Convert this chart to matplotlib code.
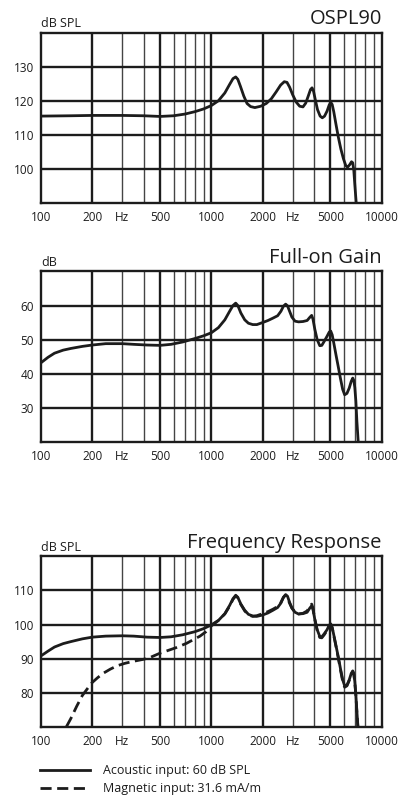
import matplotlib
matplotlib.use("Agg")
import matplotlib.pyplot as plt
from matplotlib.lines import Line2D

plt.rcParams['font.family'] = ['Open Sans', 'DejaVu Sans']

# OSPL90 curve (Hz, dB SPL)
ospl_freq = [100, 150, 200, 300, 400, 500, 600, 700, 800, 900, 1000, 1100, 1200, 1280, 1340,
             1390, 1430, 1480, 1550, 1620, 1700, 1800, 1950, 2100, 2250, 2400, 2550, 2680, 2780,
             2880, 3000, 3150, 3300, 3450, 3580, 3700, 3820, 3900, 3980, 4080, 4200, 4350, 4480,
             4620, 4780, 4920, 5030, 5120, 5230, 5380, 5560, 5760, 5960, 6150, 6300, 6480, 6650,
             6760, 6860, 6950, 7060, 7200]
ospl_db = [115.5, 115.6, 115.7, 115.7, 115.6, 115.4, 115.6, 116.1, 116.8, 117.6, 118.6, 120.0,
           122.3, 124.8, 126.5, 127.0, 126.3, 124.3, 121.4, 119.2, 118.3, 118.0, 118.4, 119.2,
           120.6, 122.6, 124.6, 125.6, 125.4, 124.0, 121.8, 119.6, 118.4, 118.2, 119.3, 121.3,
           123.3, 123.8, 122.8, 120.2, 117.4, 115.5, 115.0, 115.5, 117.0, 118.8, 119.5, 118.9,
           116.8, 113.3, 109.4, 105.8, 103.0, 101.0, 100.5, 101.2, 102.1, 101.8, 99.5, 95.5,
           91.0, 86.0]

# Full-on gain curve (Hz, dB)
gain_freq = [100, 110, 120, 135, 150, 175, 200, 240, 300, 350, 420, 500, 580, 680, 800, 900,
             1000, 1100, 1200, 1280, 1340, 1390, 1430, 1490, 1570, 1650, 1750, 1850, 2000, 2150,
             2300, 2450, 2560, 2650, 2730, 2800, 2880, 2970, 3100, 3250, 3450, 3650, 3780, 3880,
             3950, 4050, 4180, 4330, 4450, 4600, 4780, 4920, 5020, 5120, 5250, 5400, 5560, 5730,
             5900, 6060, 6250, 6450, 6620, 6760, 6860, 6950, 7050, 7150, 7300]
gain_db = [43.2, 44.8, 46.0, 46.9, 47.4, 48.0, 48.4, 48.8, 48.8, 48.6, 48.4, 48.3, 48.6, 49.3,
           50.3, 51.1, 52.0, 53.5, 55.8, 58.3, 60.0, 60.7, 60.0, 57.8, 55.8, 54.8, 54.4, 54.4,
           55.0, 55.6, 56.3, 57.0, 58.3, 59.8, 60.4, 59.9, 58.3, 56.6, 55.4, 55.2, 55.3, 55.6,
           56.5, 57.1, 56.0, 53.0, 50.0, 48.2, 48.3, 49.5, 51.0, 52.2, 52.5, 51.4, 48.6, 45.3,
           42.0, 38.5, 35.4, 33.8, 34.2, 35.8, 37.7, 38.7, 38.0, 36.0, 32.0, 26.0, 19.0]

# Frequency response, acoustic input 60 dB SPL
acou_freq = gain_freq
acou_db = [90.8, 92.2, 93.4, 94.4, 95.0, 95.8, 96.3, 96.6, 96.7, 96.6, 96.3, 96.2, 96.4, 97.0,
           97.9, 98.8, 99.9, 101.2, 103.2, 105.6, 107.6, 108.6, 108.0, 106.0, 104.2, 103.0,
           102.5, 102.4, 102.8, 103.4, 104.2, 105.0, 106.3, 108.0, 108.8, 108.3, 106.5, 104.9,
           103.6, 103.1, 103.2, 103.6, 104.8, 105.5, 104.4, 101.5, 98.5, 96.5, 96.4, 97.3, 98.5,
           99.8, 100.2, 99.2, 96.6, 93.6, 90.5, 87.0, 83.8, 82.0, 82.2, 83.8, 85.6, 86.4, 85.6,
           83.3, 79.5, 74.5, 68.0]

# Frequency response, magnetic input 31.6 mA/m
magn_freq = [141, 150, 162, 175, 190, 200, 215, 232, 255, 280, 310, 348, 400, 440, 500, 550,
             620, 716, 800, 858, 930, 1000, 1100, 1200, 1280, 1340, 1390, 1430, 1490, 1570, 1650,
             1750, 1850, 2000, 2150, 2300, 2450, 2560, 2650, 2720, 2790, 2870, 2970, 3100, 3250,
             3450, 3650, 3780, 3880, 3950, 4050, 4180, 4330, 4450, 4600, 4780, 4920, 5020, 5120,
             5250, 5400, 5560, 5730, 5900, 6060, 6250, 6450, 6620, 6760, 6860, 6950, 7050, 7150,
             7300]
magn_db = [70.0, 72.5, 76.0, 79.2, 81.6, 83.0, 84.4, 85.7, 86.9, 87.9, 88.6, 89.2, 89.8, 90.4,
           91.6, 92.3, 93.2, 94.5, 95.8, 96.6, 97.9, 99.6, 101.2, 103.1, 105.4, 107.4, 108.4,
           107.9, 105.9, 104.0, 102.8, 102.4, 102.6, 103.2, 103.8, 104.5, 105.3, 106.5, 108.0,
           108.6, 108.1, 106.4, 104.8, 103.6, 103.1, 103.3, 104.0, 105.3, 106.0, 104.8, 101.5,
           98.3, 96.2, 96.1, 97.0, 98.3, 99.6, 100.1, 99.0, 96.4, 93.4, 90.2, 86.6, 83.4, 81.6,
           82.0, 83.6, 85.4, 86.2, 85.4, 83.0, 79.2, 74.2, 67.5]

x_ticks = [100, 200, 300, 500, 1000, 2000, 3000, 5000, 10000]
x_labels = ['100', '200', 'Hz', '500', '1000', '2000', 'Hz', '5000', '10000']
major_grid = [200, 500, 1000, 2000, 5000]
minor_grid = [300, 400, 600, 700, 800, 900, 3000, 4000, 6000, 7000, 8000, 9000]

INK = '#1c1c1c'
DASH = (0, (4.0, 2.0))


def freq_panel(ax, title, unit, ylim, yticks):
    ax.set_xscale('log')
    ax.set_xlim(100, 10000)
    ax.set_ylim(*ylim)
    for f in minor_grid:
        ax.axvline(f, color='#444444', lw=1.0, zorder=1)
    for f in major_grid:
        ax.axvline(f, color=INK, lw=1.7, zorder=1)
    for y in yticks:
        ax.axhline(y, color=INK, lw=1.7, zorder=1)
    ax.set_xticks(x_ticks)
    ax.set_xticklabels(x_labels)
    ax.minorticks_off()
    ax.set_yticks(yticks)
    ax.tick_params(length=0, labelsize=8.5, colors=INK, pad=5)
    ax.tick_params(axis='x', pad=6)
    for s in ax.spines.values():
        s.set_linewidth(1.7)
        s.set_color(INK)
    ax.text(1.0, 1.05, title, transform=ax.transAxes, ha='right', va='baseline',
            fontsize=14.5, color=INK)
    ax.text(0.0, 1.032, unit, transform=ax.transAxes, ha='left', va='baseline',
            fontsize=9, color=INK)


fig = plt.figure(figsize=(4.14, 7.96), dpi=100)
ax1 = fig.add_axes([0.099, 0.745, 0.823, 0.214])
ax2 = fig.add_axes([0.099, 0.445, 0.823, 0.214])
ax3 = fig.add_axes([0.099, 0.087, 0.823, 0.214])

freq_panel(ax1, 'OSPL90', 'dB SPL', (90, 140), [100, 110, 120, 130])
ax1.plot(ospl_freq, ospl_db, color=INK, lw=2.0, zorder=3, solid_joinstyle='round')

freq_panel(ax2, 'Full-on Gain', 'dB', (20, 70), [30, 40, 50, 60])
ax2.plot(gain_freq, gain_db, color=INK, lw=2.0, zorder=3, solid_joinstyle='round')

freq_panel(ax3, 'Frequency Response', 'dB SPL', (70, 120), [80, 90, 100, 110])
ax3.plot(acou_freq, acou_db, color=INK, lw=2.0, zorder=3, solid_joinstyle='round')
ax3.plot(magn_freq, magn_db, color=INK, lw=2.0, ls=DASH, zorder=3)

handles = [Line2D([], [], color=INK, lw=2.0),
           Line2D([], [], color=INK, lw=2.0, ls=DASH)]
labels = ['Acoustic input: 60 dB SPL', 'Magnetic input: 31.6 mA/m']
fig.legend(handles, labels, loc='upper left', bbox_to_anchor=(0.097, 0.040),
           frameon=False, fontsize=9, handlelength=4.0, handletextpad=1.0,
           labelspacing=0.4, borderaxespad=0, borderpad=0, labelcolor=INK)

fig.savefig('out.png', dpi=100)
